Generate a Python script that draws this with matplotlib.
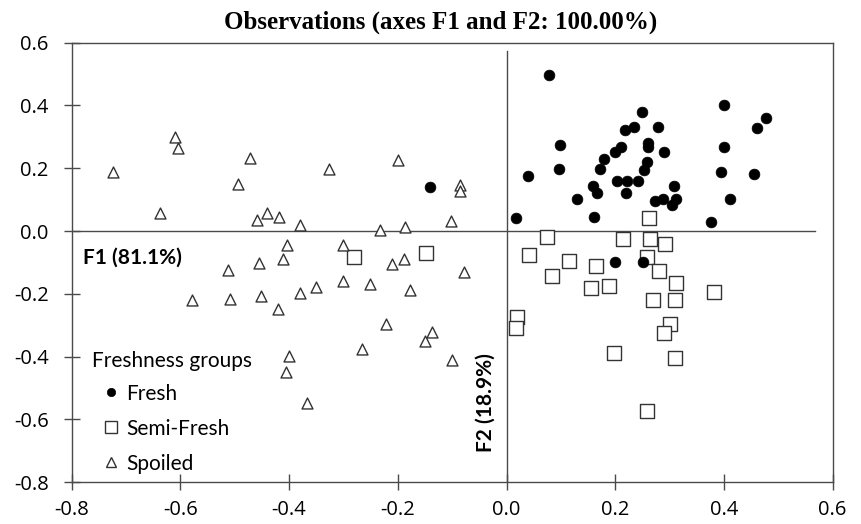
import matplotlib
matplotlib.use("Agg")
import matplotlib.pyplot as plt
from matplotlib.lines import Line2D

plt.rcParams['axes.unicode_minus'] = False

# ---- data ----
fresh_x = [0.078, 0.400, 0.478, 0.460, 0.249, 0.218, 0.234, 0.279, 0.099, 0.400,
           0.261, 0.260, 0.210, 0.200, 0.289, 0.180, 0.172, 0.097, 0.039, 0.259,
           0.253, 0.203, 0.222, 0.242, 0.395, 0.456, 0.160, 0.166, 0.219, 0.308,
           0.130, 0.274, 0.288, 0.311, 0.305, 0.411, 0.161, 0.018, 0.376, -0.141,
           0.200, 0.252]
fresh_y = [0.496, 0.402, 0.359, 0.327, 0.380, 0.321, 0.331, 0.331, 0.275, 0.269,
           0.281, 0.268, 0.267, 0.251, 0.253, 0.231, 0.198, 0.198, 0.177, 0.221,
           0.195, 0.160, 0.160, 0.160, 0.189, 0.182, 0.144, 0.122, 0.122, 0.142,
           0.101, 0.095, 0.101, 0.103, 0.083, 0.101, 0.046, 0.041, 0.028, 0.141,
           -0.097, -0.097]

semi_x = [0.262, 0.074, 0.214, 0.264, 0.292, 0.042, 0.115, 0.164, 0.259, 0.280,
          0.083, 0.311, 0.156, 0.188, 0.381, 0.270, 0.310, 0.020, 0.018, 0.300,
          0.289, 0.197, 0.310, 0.259, -0.280, -0.148]
semi_y = [0.042, -0.018, -0.025, -0.025, -0.041, -0.076, -0.095, -0.111, -0.083, -0.128,
          -0.144, -0.166, -0.180, -0.174, -0.195, -0.218, -0.218, -0.273, -0.308, -0.296,
          -0.325, -0.389, -0.405, -0.573, -0.083, -0.070]

spoiled_x = [-0.724, -0.610, -0.605, -0.472, -0.494, -0.326, -0.200, -0.085, -0.085, -0.638,
             -0.460, -0.440, -0.419, -0.380, -0.232, -0.186, -0.102, -0.404, -0.301, -0.411,
             -0.455, -0.512, -0.211, -0.189, -0.079, -0.578, -0.509, -0.452, -0.421, -0.380,
             -0.351, -0.301, -0.251, -0.178, -0.221, -0.137, -0.150, -0.266, -0.101, -0.401,
             -0.405, -0.367]
spoiled_y = [0.188, 0.299, 0.266, 0.232, 0.151, 0.199, 0.225, 0.146, 0.127, 0.058,
             0.034, 0.059, 0.044, 0.018, 0.004, 0.013, 0.032, -0.044, -0.044, -0.089,
             -0.101, -0.123, -0.105, -0.089, -0.131, -0.218, -0.215, -0.208, -0.248, -0.197,
             -0.178, -0.158, -0.168, -0.189, -0.297, -0.320, -0.350, -0.377, -0.410, -0.397,
             -0.450, -0.548]

xticks = [-0.8, -0.6, -0.4, -0.2, 0.0, 0.2, 0.4, 0.6]
yticks = [-0.8, -0.6, -0.4, -0.2, 0.0, 0.2, 0.4, 0.6]

title = "Observations (axes F1 and F2: 100.00%)"
f1_label = "F1 (81.1%)"
f2_label = "F2 (18.9%)"
legend_title = "Freshness groups"
group_names = ["Fresh", "Semi-Fresh", "Spoiled"]

# ---- figure ----
fig = plt.figure(figsize=(8.61, 5.24), dpi=100)
ax = fig.add_axes([0.0833, 0.0797, 0.8837, 0.8388])
line_col = '#4a4a4a'
edge_col = '#333333'

ax.set_xlim(-0.8, 0.6)
ax.set_ylim(-0.8, 0.6)

# zero axes lines
ax.plot([-0.8, 0.567], [0, 0], color=line_col, lw=1.0, zorder=1)
ax.plot([0, 0], [-0.8, 0.575], color=line_col, lw=1.0, zorder=1)

ax.scatter(fresh_x, fresh_y, s=60, marker='o', facecolor='black',
           edgecolor='black', linewidths=0.5, zorder=3)
ax.scatter(semi_x, semi_y, s=92, marker='s', facecolor='white',
           edgecolor=edge_col, linewidths=1.0, zorder=2)
ax.scatter(spoiled_x, spoiled_y, s=62, marker='^', facecolor='white',
           edgecolor=edge_col, linewidths=1.0, zorder=2)

ax.set_xticks(xticks)
ax.set_yticks(yticks)
ax.set_xticklabels([f"{v:.1f}" for v in xticks], fontsize=14.5, family='Open Sans')
ax.set_yticklabels([f"{v:.1f}" for v in yticks], fontsize=14.5, family='Open Sans')
ax.tick_params(axis='both', direction='inout', length=11, width=1.0, color=line_col)
ax.tick_params(axis='x', pad=7.5)
ax.tick_params(axis='y', pad=11)
for s in ax.spines.values():
    s.set_color(line_col)
    s.set_linewidth(1.0)

fig.text(441 / 861, 1 - 22 / 524, title, fontsize=18, fontweight='bold',
         family='Liberation Serif', ha='center', va='center')

ax.text(-0.7797, -0.085, f1_label, fontsize=15, fontweight='bold', family='Lato',
        ha='left', va='center')
ax.text(-0.038, -0.547, f2_label, fontsize=15, fontweight='bold', family='Lato',
        rotation=90, ha='center', va='center')

handles = [
    Line2D([], [], linestyle='none', marker='o', markersize=6,
           markerfacecolor='black', markeredgecolor='black', markeredgewidth=0.5),
    Line2D([], [], linestyle='none', marker='s', markersize=8.5,
           markerfacecolor='white', markeredgecolor=edge_col, markeredgewidth=1.0),
    Line2D([], [], linestyle='none', marker='^', markersize=7.5,
           markerfacecolor='white', markeredgecolor=edge_col, markeredgewidth=1.0),
]
leg = ax.legend(handles=handles, labels=group_names, title=legend_title,
                loc='upper left', bbox_to_anchor=(0.026, 0.298), frameon=False,
                handlelength=1.9, handletextpad=-0.25, labelspacing=0.72,
                borderpad=0, borderaxespad=0, prop={'family': 'Lato', 'size': 15},
                title_fontproperties={'family': 'Lato', 'size': 15},
                alignment='left')
leg._legend_box.sep = 9

fig.savefig('out.png', dpi=100)
